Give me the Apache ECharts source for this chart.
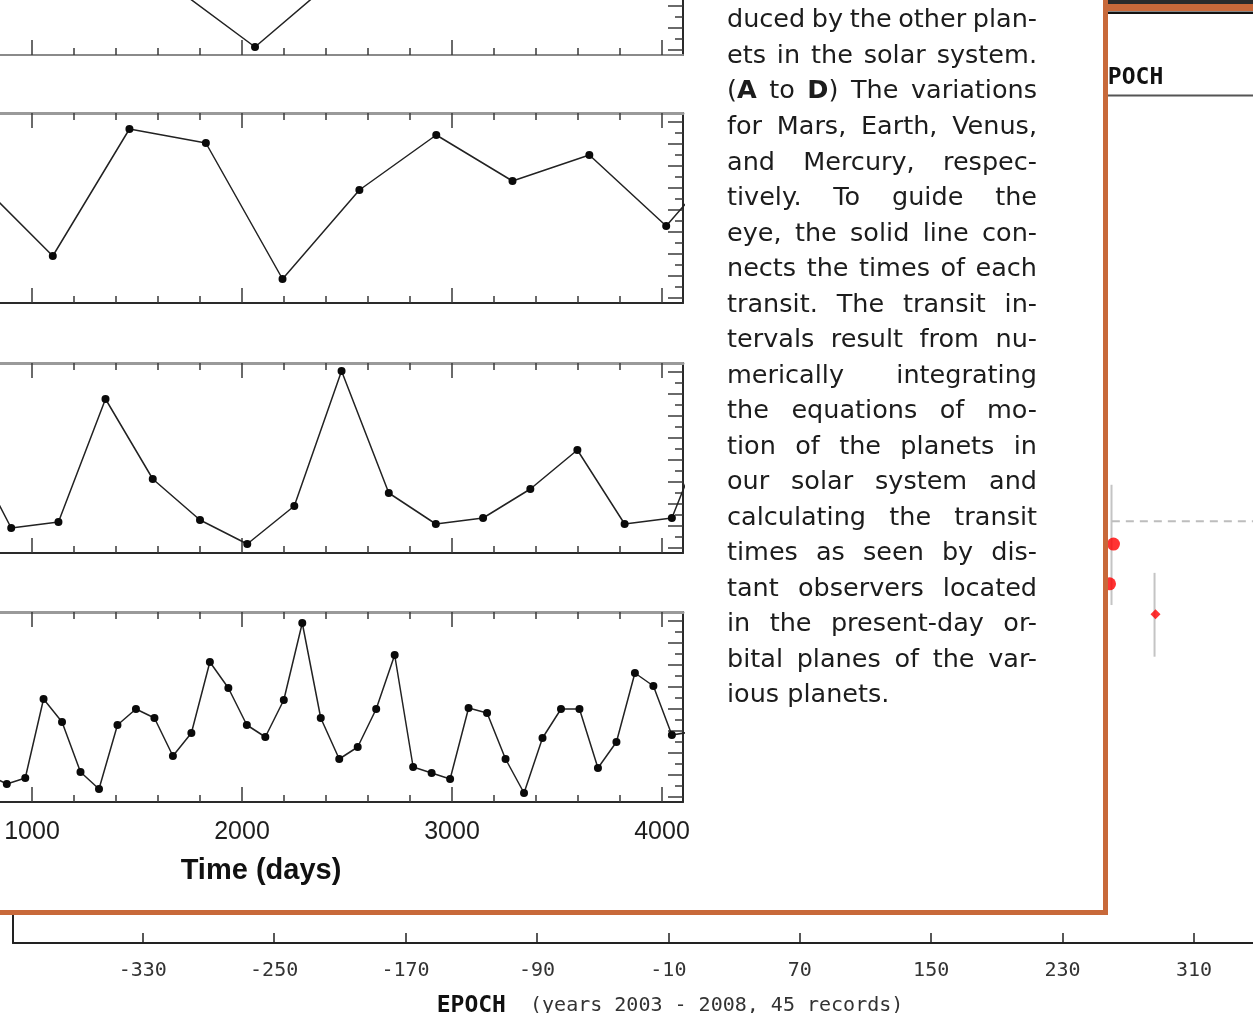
<!DOCTYPE html>
<html>
<head>
<meta charset="utf-8">
<script src="https://cdn.jsdelivr.net/npm/echarts@6/dist/echarts.min.js"></script>
<style>
  html, body { margin: 0; padding: 0; background: #ffffff; }
  #chart { width: 1253px; height: 1013px; }
</style>
</head>
<body>
<div id="chart"></div>
<script>
// ---------- Background EPOCH chart ----------
const epochTicks = [-330, -250, -170, -90, -10, 70, 150, 230, 310];
const epochCircles = [[261, 47.1], [258.6, 42.4]];
const epochDiamonds = [[286.6, 38.8]];
const epochErrorBars = [[259.8, 39.9, 54.1], [286.0, 33.8, 43.7]];
const epochRefLevel = 49.8;
const epochRefStart = 260;

// ---------- Transit-timing panels (time in days) ----------
const dayTicksMajor = [0, 1000, 2000, 3000, 4000];
const dayTicksMinor = [200, 400, 600, 800, 1200, 1400, 1600, 1800, 2200, 2400, 2600, 2800, 3200, 3400, 3600, 3800];
const dayLabels = [0, 1000, 2000, 3000, 4000];
const devTicksMajor = [0.5, 2.7, 4.9, 7.1, 9.3, 11.5, 13.7, 15.9, 18.1];
const devTicksMinor = [1.6, 3.8, 6.0, 8.2, 10.4, 12.6, 14.8, 17.0];

// (A) Mars
const marsDays = [1, 688, 1375, 2062, 2749, 3436, 4123];
const marsDev = [9.0, 12.0, 11.5, 0.8, 13.1, 10.0, 12.0];
// (B) Earth
const earthDays = [733, 1099, 1464, 1828, 2193, 2559, 2925, 3288, 3654, 4020, 4385];
const earthDev = [12.4, 4.7, 17.4, 16.0, 2.4, 11.3, 16.8, 12.2, 14.8, 7.7, 16.5];
// (C) Venus
const venusDays = [676, 901, 1126, 1350, 1575, 1800, 2025, 2249, 2474, 2699, 2923, 3148, 3373, 3597, 3822, 4047, 4272];
const venusDev = [11.6, 2.5, 3.1, 15.4, 7.4, 3.3, 0.9, 4.7, 18.2, 6.0, 2.9, 3.5, 6.4, 10.3, 2.9, 3.5, 15.3];
// (D) Mercury
const mercuryDays = [792, 880, 968, 1055, 1143, 1231, 1319, 1407, 1495, 1583, 1671, 1759, 1847, 1935, 2023, 2111, 2199,
  2287, 2375, 2463, 2551, 2639, 2727, 2815, 2903, 2991, 3079, 3167, 3255, 3343, 3431, 3519, 3607, 3695, 3783, 3871,
  3959, 4047, 4135];
const mercuryDev = [2.7, 1.8, 2.4, 10.3, 8.0, 3.0, 1.3, 7.7, 9.3, 8.4, 4.6, 6.9, 14.0, 11.4, 7.7, 6.5, 10.2,
  17.9, 8.4, 4.3, 5.5, 9.3, 14.7, 3.5, 2.9, 2.3, 9.4, 8.9, 4.3, 0.9, 6.4, 9.3, 9.3, 3.4, 6.0, 12.9,
  11.6, 6.7, 7.0];

// ---------- Caption ----------
const captionLines = [
  'duced by the other plan-',
  'ets in the solar system.',
  '(*A* to *D*) The variations',
  'for Mars, Earth, Venus,',
  'and Mercury, respec-',
  'tively. To guide the',
  'eye, the solid line con-',
  'nects the times of each',
  'transit. The transit in-',
  'tervals result from nu-',
  'merically integrating',
  'the equations of mo-',
  'tion of the planets in',
  'our solar system and',
  'calculating the transit',
  'times as seen by dis-',
  'tant observers located',
  'in the present-day or-',
  'bital planes of the var-',
  'ious planets.'
];
const axisTitle = 'Time (days)';
const epochName = 'EPOCH';
const epochNote = '(years 2003 - 2008, 45 records)';

const ORANGE = '#c8693a';
const MONO = '"DejaVu Sans Mono", monospace';

const chart = echarts.init(document.getElementById('chart'), null, { renderer: 'canvas' });

const grid = [{ left: 13, top: 96, width: 1314, height: 847, outerBoundsMode: 'none', containLabel: false }];
const xAxis = [{
  type: 'value', gridIndex: 0, min: -409, max: 391, position: 'bottom', z: 0,
  splitLine: { show: false },
  axisLine: { show: true, onZero: false, lineStyle: { color: '#222', width: 2 } },
  axisTick: { show: true, inside: true, length: 10, customValues: epochTicks, lineStyle: { color: '#222', width: 1.5 } },
  axisLabel: {
    show: true, customValues: epochTicks, margin: 18, color: '#333',
    fontFamily: MONO, fontSize: 20, formatter: v => String(v)
  },
  name: '{e|' + epochName + '}{r|  ' + epochNote + '}',
  nameLocation: 'middle', nameGap: 50,
  nameTextStyle: {
    rich: {
      e: { fontFamily: MONO, fontWeight: 'bold', fontSize: 23, color: '#111', lineHeight: 26 },
      r: { fontFamily: MONO, fontSize: 20, color: '#333', lineHeight: 26 }
    }
  }
}];
const yAxis = [{
  type: 'value', gridIndex: 0, min: 0, max: 100, position: 'left', z: 0,
  splitLine: { show: false },
  axisLine: { show: true, onZero: false, lineStyle: { color: '#222', width: 2 } },
  axisTick: { show: false }, axisLabel: { show: false }
}];

const series = [
  {
    type: 'custom', xAxisIndex: 0, yAxisIndex: 0, z: 1, silent: true,
    data: epochErrorBars,
    renderItem: (params, api) => {
      const a = api.coord([api.value(0), api.value(1)]);
      const b = api.coord([api.value(0), api.value(2)]);
      return { type: 'line', shape: { x1: a[0], y1: a[1], x2: b[0], y2: b[1] }, style: { stroke: '#c4c4c4', lineWidth: 2 } };
    }
  },
  {
    type: 'line', xAxisIndex: 0, yAxisIndex: 0, z: 1, symbol: 'none', silent: true,
    data: [[epochRefStart, epochRefLevel], [391, epochRefLevel]],
    lineStyle: { color: '#bdbdbd', width: 2, type: [8, 6] }
  },
  {
    type: 'scatter', xAxisIndex: 0, yAxisIndex: 0, z: 2, symbol: 'circle', symbolSize: 13,
    data: epochCircles, itemStyle: { color: '#ff0000' }
  },
  {
    type: 'scatter', xAxisIndex: 0, yAxisIndex: 0, z: 2, symbol: 'diamond', symbolSize: [10, 10],
    data: epochDiamonds, itemStyle: { color: '#ff0000' }
  }
];

// Stacked panels A-D
const panels = [
  { days: marsDays, dev: marsDev, top: -135, bottomColor: '#8a8a8a' },
  { days: earthDays, dev: earthDev, top: 113, bottomColor: '#2a2a2a' },
  { days: venusDays, dev: venusDev, top: 363, bottomColor: '#2a2a2a' },
  { days: mercuryDays, dev: mercuryDev, top: 612, bottomColor: '#2a2a2a' }
];
const tickStyle = { color: '#3a3a3a', width: 1.5 };

panels.forEach((p, k) => {
  const g = k + 1;
  grid.push({ left: -178, top: p.top, width: 861, height: 190, outerBoundsMode: 'none', containLabel: false });
  const base = { type: 'value', gridIndex: g, min: 0, max: 4100, z: 20, splitLine: { show: false } };
  const xi = xAxis.length;
  xAxis.push(Object.assign({}, base, {
    position: 'bottom',
    axisLine: { show: true, onZero: false, lineStyle: { color: p.bottomColor, width: 2 } },
    axisTick: { show: true, inside: true, length: 15, customValues: dayTicksMajor, lineStyle: tickStyle },
    axisLabel: k === 3 ? {
      show: true, customValues: dayLabels, margin: 18, color: '#1e1e1e',
      fontFamily: '"Liberation Sans", Arial, sans-serif', fontSize: 25, formatter: v => String(v)
    } : { show: false }
  }));
  xAxis.push(Object.assign({}, base, {
    position: 'bottom', axisLine: { show: false, onZero: false },
    axisTick: { show: true, inside: true, length: 7, customValues: dayTicksMinor, lineStyle: tickStyle },
    axisLabel: { show: false }
  }));
  xAxis.push(Object.assign({}, base, {
    position: 'top',
    axisLine: { show: true, onZero: false, lineStyle: { color: '#9a9a9a', width: 3 } },
    axisTick: { show: true, inside: true, length: 15, customValues: dayTicksMajor, lineStyle: tickStyle },
    axisLabel: { show: false }
  }));
  xAxis.push(Object.assign({}, base, {
    position: 'top', axisLine: { show: false, onZero: false },
    axisTick: { show: true, inside: true, length: 7, customValues: dayTicksMinor, lineStyle: tickStyle },
    axisLabel: { show: false }
  }));

  const ybase = { type: 'value', gridIndex: g, min: 0, max: 19, z: 20, splitLine: { show: false }, axisLabel: { show: false } };
  const yi = yAxis.length;
  yAxis.push(Object.assign({}, ybase, {
    position: 'right',
    axisLine: { show: true, onZero: false, lineStyle: { color: '#2a2a2a', width: 2 } },
    axisTick: { show: true, inside: true, length: 15, customValues: devTicksMajor, lineStyle: tickStyle }
  }));
  yAxis.push(Object.assign({}, ybase, {
    position: 'right', axisLine: { show: false, onZero: false },
    axisTick: { show: true, inside: true, length: 8, customValues: devTicksMinor, lineStyle: tickStyle }
  }));
  yAxis.push(Object.assign({}, ybase, {
    position: 'left',
    axisLine: { show: true, onZero: false, lineStyle: { color: '#2a2a2a', width: 2 } },
    axisTick: { show: true, inside: true, length: 15, customValues: devTicksMajor, lineStyle: tickStyle }
  }));

  series.push({
    type: 'line', xAxisIndex: xi, yAxisIndex: yi, z: 30, clip: true,
    data: p.days.map((d, i) => [d, p.dev[i]]),
    symbol: 'circle', symbolSize: 8, showAllSymbol: true,
    itemStyle: { color: '#0a0a0a' },
    lineStyle: { color: '#222', width: 1.5 }
  });
});

// ---------- Graphic layer: page frame, header bits, caption ----------
const graphics = [
  // header strip of the underlying page
  { type: 'rect', z: 5, shape: { x: 1100, y: 0, width: 153, height: 4 }, style: { fill: '#2b2b2b' } },
  { type: 'rect', z: 5, shape: { x: 1100, y: 4, width: 153, height: 7 }, style: { fill: ORANGE } },
  { type: 'rect', z: 5, shape: { x: 1100, y: 11.5, width: 153, height: 2.5 }, style: { fill: '#111' } },
  {
    type: 'text', z: 5, x: 1094, y: 78,
    style: { text: epochName, fontFamily: MONO, fontWeight: 'bold', fontSize: 23, fill: '#111', verticalAlign: 'middle' }
  },
  { type: 'line', z: 5, shape: { x1: 1094, y1: 95.5, x2: 1253, y2: 95.5 }, style: { stroke: '#555', lineWidth: 2 } },
  // figure panel with orange frame
  {
    type: 'rect', z: 10,
    shape: { x: -20, y: -20, width: 1125.5, height: 932.5 },
    style: { fill: '#ffffff', stroke: ORANGE, lineWidth: 5 }
  },
  {
    type: 'text', z: 30, x: 261, y: 871,
    style: {
      text: axisTitle, fontFamily: '"Liberation Sans", Arial, sans-serif', fontWeight: 'bold', fontSize: 29,
      fill: '#111', align: 'center', verticalAlign: 'middle'
    }
  }
];

// Justified caption column
const CAP_LEFT = 727, CAP_RIGHT = 1037;
const CAP_SIZE = 25.5, CAP_FAMILY = '"DejaVu Sans", sans-serif';
const measureCtx = document.createElement('canvas').getContext('2d');
function segWidth(text, bold) {
  measureCtx.font = (bold ? 'bold ' : '') + CAP_SIZE + 'px ' + CAP_FAMILY;
  return measureCtx.measureText(text).width;
}
function splitSegments(word) {
  const parts = [];
  word.split(/(\*[^*]+\*)/).forEach(s => {
    if (!s) return;
    if (s[0] === '*') parts.push({ text: s.slice(1, -1), bold: true });
    else parts.push({ text: s, bold: false });
  });
  return parts;
}
captionLines.forEach((line, i) => {
  const words = line.split(' ').map(w => {
    const segs = splitSegments(w);
    segs.forEach(s => { s.w = segWidth(s.text, s.bold); });
    return { segs, w: segs.reduce((a, s) => a + s.w, 0) };
  });
  const total = words.reduce((a, w) => a + w.w, 0);
  const last = i === captionLines.length - 1;
  const gap = (last || words.length < 2) ? segWidth(' ', false) : (CAP_RIGHT - CAP_LEFT - total) / (words.length - 1);
  const y = 20.8 + 35.52 * i;
  let x = CAP_LEFT;
  words.forEach(w => {
    w.segs.forEach(s => {
      graphics.push({
        type: 'text', z: 30, x: x, y: y,
        style: {
          text: s.text, fontFamily: CAP_FAMILY, fontSize: CAP_SIZE, fontWeight: s.bold ? 'bold' : 'normal',
          fill: '#1c1c1c', verticalAlign: 'middle', align: 'left'
        }
      });
      x += s.w;
    });
    x += gap;
  });
});

chart.setOption({
  animation: false,
  backgroundColor: '#ffffff',
  grid: grid,
  xAxis: xAxis,
  yAxis: yAxis,
  series: series,
  graphic: { elements: graphics }
});
</script>
</body>
</html>
